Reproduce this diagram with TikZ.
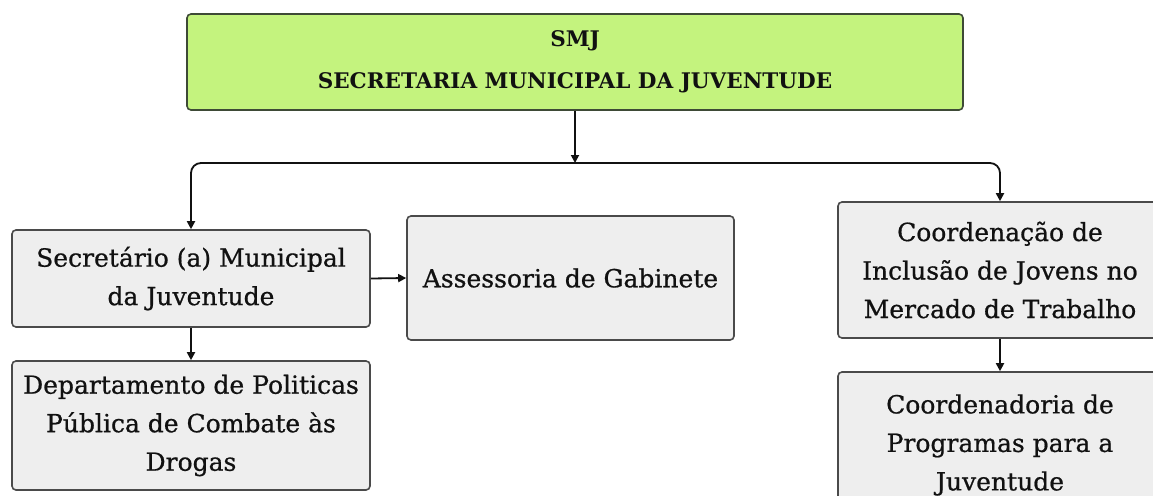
\documentclass[tikz,border=0pt]{standalone}
\usepackage{fontspec}
\setmainfont{DejaVu Serif}
\newfontfamily\heavyfont[FakeBold=0.7]{DejaVu Serif}
\usetikzlibrary{arrows.meta}
\definecolor{boxgreen}{HTML}{C4F37E}
\definecolor{greenedge}{HTML}{3E4A36}
\definecolor{boxgrey}{HTML}{EEEEEE}
\definecolor{greyedge}{HTML}{4A4A4A}
\definecolor{ink}{HTML}{111111}
\begin{document}
\begin{tikzpicture}[x=1pt,y=-1pt,
  topbox/.style={draw=greenedge,fill=boxgreen,line width=1.6pt,rounded corners=4pt,
    minimum width=776pt,minimum height=96pt,inner sep=0pt,align=center,
    font=\fontsize{21.5}{42}\selectfont\bfseries,text=ink},
  greybox/.style={draw=greyedge,fill=boxgrey,line width=1.6pt,rounded corners=4pt,
    inner sep=0pt,align=center,font=\heavyfont\fontsize{25}{38.5}\selectfont,text=ink},
  conn/.style={draw=ink,line width=1.8pt,-{Triangle[length=8pt,width=8pt]}}]
\useasboundingbox (0,0) rectangle (1153,495);
\clip (0,0) rectangle (1153,495);
\fill[white] (0,0) rectangle (1153,495);
\node[topbox] (top) at (575,62) {SMJ\\SECRETARIA MUNICIPAL DA JUVENTUDE};
\node[greybox,minimum width=358pt,minimum height=97pt] (sec) at (191,278.5) {Secretário (a) Municipal\\da Juventude};
\node[greybox,minimum width=327pt,minimum height=124pt] (ass) at (570.5,278) {Assessoria de Gabinete};
\node[greybox,minimum width=358pt,minimum height=129pt] (dept) at (191,425.5) {Departamento de Politicas\\Pública de Combate às\\Drogas};
\node[greybox,minimum width=324pt,minimum height=136pt] (coord) at (1000,270) {Coordenação de\\Inclusão de Jovens no\\Mercado de Trabalho};
\node[greybox,minimum width=324pt,minimum height=146pt] (coordp) at (1000,445) {Coordenadoria de\\Programas para a\\Juventude};
\coordinate (bus) at (575,163);
\draw[conn] (top.south) -- (bus);
\draw[conn,rounded corners=10pt] (bus) -| (sec.north);
\draw[conn,rounded corners=10pt] (bus) -| (coord.north);
\draw[conn] (sec.east) -- (ass.west);
\draw[conn] (sec.south) -- (dept.north);
\draw[conn] (coord.south) -- (coordp.north);
\end{tikzpicture}
\end{document}
